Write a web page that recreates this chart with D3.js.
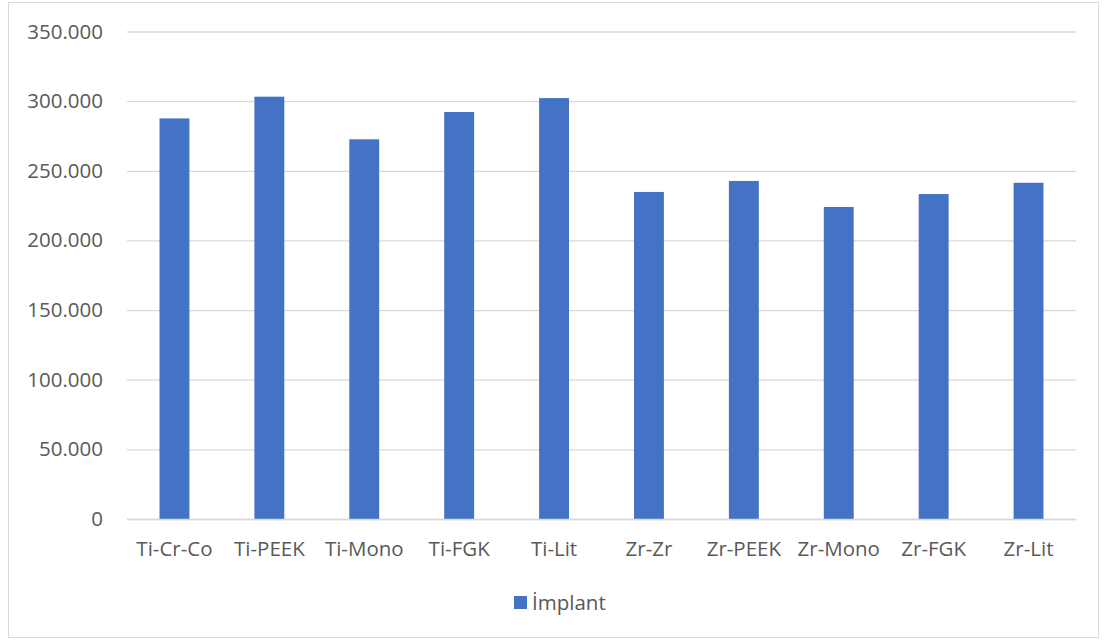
<!DOCTYPE html>
<html>
<head>
<meta charset="utf-8">
<script src="https://cdn.jsdelivr.net/npm/d3@7"></script>
<style>
  html, body { margin: 0; padding: 0; background: #fff; }
  svg { display: block; }
  text { font-family: "Open Sans", "Noto Sans", sans-serif; fill: #595959; }
</style>
</head>
<body>
<svg id="chart" width="1105" height="641"></svg>
<script>
// Bar values per restoration group
const categories = ["Ti-Cr-Co", "Ti-PEEK", "Ti-Mono", "Ti-FGK", "Ti-Lit", "Zr-Zr", "Zr-PEEK", "Zr-Mono", "Zr-FGK", "Zr-Lit"];
const implantValues = [287.6, 303.2, 272.6, 292.2, 302.2, 234.8, 242.7, 224.0, 233.3, 241.4];
const yTicks = [0, 50, 100, 150, 200, 250, 300, 350];
const seriesName = "İmplant";

const W = 1105, H = 641;
const margin = { left: 127, right: 29, top: 31.5, bottom: 122 };
const FS = 20.5;
const svg = d3.select("#chart");

// outer chart frame
svg.append("rect")
  .attr("x", 8.5).attr("y", 2.5)
  .attr("width", W - 15).attr("height", H - 6)
  .attr("fill", "#fff").attr("stroke", "#d9d9d9").attr("stroke-width", 1);

const x = d3.scaleBand()
  .domain(categories)
  .range([margin.left, W - margin.right])
  .paddingInner(0.685).paddingOuter(0.3425);

const y = d3.scaleLinear()
  .domain([0, 350])
  .range([H - margin.bottom, margin.top]);

// y-axis: gridlines and labels
const yAxis = d3.axisLeft(y)
  .tickValues(yTicks)
  .tickSize(-(W - margin.left - margin.right))
  .tickPadding(24)
  .tickFormat(d => d === 0 ? "0" : d3.format(".3f")(d).replace(",", "."));

const gy = svg.append("g")
  .attr("transform", `translate(${margin.left},0)`)
  .call(yAxis);
gy.select(".domain").remove();
gy.selectAll(".tick line").attr("stroke", "#d9d9d9").attr("stroke-width", 1.3);
gy.selectAll(".tick text")
  .attr("font-size", FS)
  .style("font-family", "'Open Sans', sans-serif")
  .attr("fill", "#595959");

// bars
svg.append("g").selectAll("rect")
  .data(categories)
  .join("rect")
  .attr("x", d => x(d))
  .attr("width", x.bandwidth())
  .attr("y", (d, i) => y(implantValues[i]))
  .attr("height", (d, i) => y(0) - y(implantValues[i]))
  .attr("fill", "#4472c4");

// x-axis baseline and category labels
const xAxis = d3.axisBottom(x).tickSize(0).tickPadding(22);
const gx = svg.append("g")
  .attr("transform", `translate(0,${y(0)})`)
  .call(xAxis);
gx.select(".domain").attr("stroke", "#d9d9d9").attr("stroke-width", 1.3);
gx.selectAll(".tick text")
  .attr("font-size", FS)
  .style("font-family", "'Open Sans', sans-serif")
  .attr("fill", "#595959");

// legend
const legend = svg.append("g").attr("transform", "translate(514,596)");
legend.append("rect").attr("width", 13).attr("height", 13).attr("fill", "#4472c4");
legend.append("text")
  .attr("x", 18).attr("y", 14)
  .attr("font-size", FS)
  .text(seriesName);
</script>
</body>
</html>
